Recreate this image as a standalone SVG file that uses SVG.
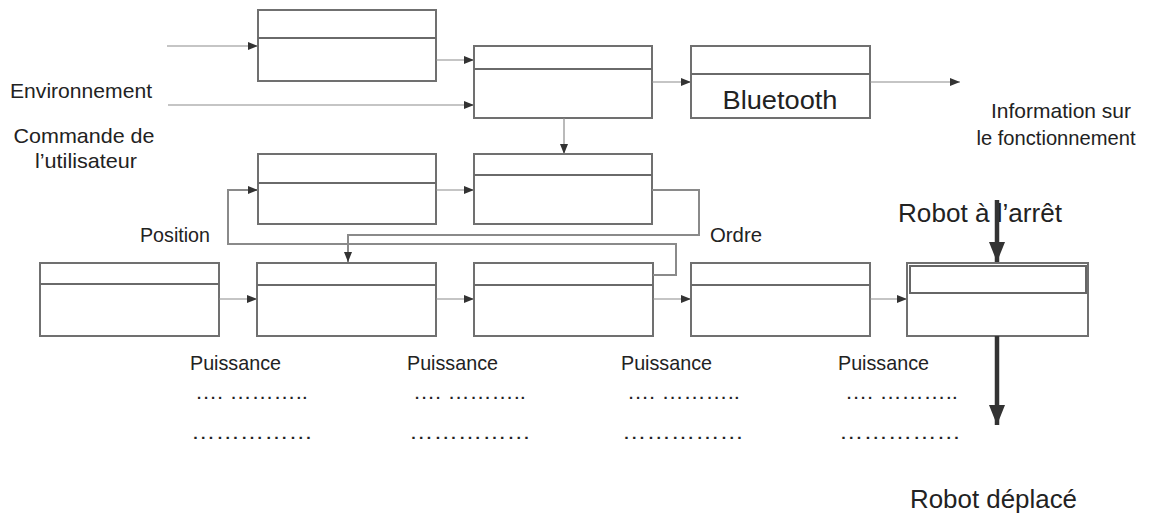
<svg xmlns="http://www.w3.org/2000/svg" width="1150" height="525" viewBox="0 0 1150 525">
  <defs>
    <style>
      .box { fill: #ffffff; stroke: #707070; stroke-width: 2; }
      .div { stroke: #6a6a6a; stroke-width: 2; }
      .link { fill: none; stroke: #8c8c8c; stroke-width: 1.2; }
      .loop { fill: none; stroke: #8a8a8a; stroke-width: 2; }
      .thick { fill: none; stroke: #333333; stroke-width: 4.5; }
      .lbl { font-family: "Liberation Sans", Arial, sans-serif; font-size: 21px; fill: #222222; }
      .big { font-family: "Liberation Sans", Arial, sans-serif; font-size: 26px; fill: #222222; }
      .dots { font-family: "Liberation Sans", Arial, sans-serif; font-size: 21px; fill: #222222; }
    </style>
    <marker id="ah" markerUnits="userSpaceOnUse" markerWidth="12" markerHeight="10" refX="10" refY="4" orient="auto">
      <path d="M0,0 L10,4 L0,8 Z" fill="#333333"/>
    </marker>
    <marker id="ahBig" markerUnits="userSpaceOnUse" markerWidth="22" markerHeight="18" refX="20" refY="8" orient="auto">
      <path d="M0,0 L20,8 L0,16 Z" fill="#333333"/>
    </marker>
  </defs>

  <rect width="1150" height="525" fill="#ffffff"/>

  <!-- blocks: top row -->
  <g id="blocA"><rect class="box" x="258" y="10" width="178" height="71"/><line class="div" x1="258" y1="38" x2="436" y2="38"/></g>
  <g id="blocB"><rect class="box" x="474" y="46" width="178" height="72"/><line class="div" x1="474" y1="69" x2="652" y2="69"/></g>
  <g id="blocBluetooth"><rect class="box" x="691" y="46" width="179" height="72"/><line class="div" x1="691" y1="74" x2="870" y2="74"/>
    <text class="big" x="780" y="109" font-size="28" text-anchor="middle" textLength="115" lengthAdjust="spacingAndGlyphs">Bluetooth</text></g>

  <!-- blocks: middle row -->
  <g id="blocD"><rect class="box" x="258" y="154" width="178" height="70"/><line class="div" x1="258" y1="183" x2="436" y2="183"/></g>
  <g id="blocE"><rect class="box" x="474" y="154" width="178" height="70"/><line class="div" x1="474" y1="175" x2="652" y2="175"/></g>

  <!-- blocks: bottom chain -->
  <g id="bloc1"><rect class="box" x="40" y="263" width="179" height="73"/><line class="div" x1="40" y1="284" x2="219" y2="284"/></g>
  <g id="bloc2"><rect class="box" x="257" y="263" width="179" height="73"/><line class="div" x1="257" y1="285" x2="436" y2="285"/></g>
  <g id="bloc3"><rect class="box" x="474" y="263" width="179" height="73"/><line class="div" x1="474" y1="285" x2="653" y2="285"/></g>
  <g id="bloc4"><rect class="box" x="691" y="263" width="179" height="73"/><line class="div" x1="691" y1="285" x2="870" y2="285"/></g>
  <g id="bloc5"><rect class="box" x="907" y="263" width="181" height="73"/>
    <rect x="910" y="266" width="176" height="27" fill="none" stroke="#666666" stroke-width="2"/></g>

  <!-- connectors -->
  <g id="connectors">
    <line class="link" x1="167" y1="46" x2="258" y2="46" marker-end="url(#ah)"/>
    <line class="link" x1="168" y1="105" x2="474" y2="105" marker-end="url(#ah)"/>
    <line class="link" x1="436" y1="60" x2="474" y2="60" marker-end="url(#ah)"/>
    <line class="link" x1="652" y1="82" x2="691" y2="82" marker-end="url(#ah)"/>
    <line class="link" x1="870" y1="82" x2="960" y2="82" marker-end="url(#ah)"/>
    <line class="link" x1="564" y1="118" x2="564" y2="154" marker-end="url(#ah)"/>
    <line class="link" x1="436" y1="190" x2="474" y2="190" marker-end="url(#ah)"/>
    <polyline class="loop" points="652,190 699,190 699,235 348,235 348,262" marker-end="url(#ah)"/>
    <polyline class="loop" points="653,275 676,275 676,244 228,244 228,190 258,190" marker-end="url(#ah)"/>
    <line class="link" x1="219" y1="299" x2="257" y2="299" marker-end="url(#ah)"/>
    <line class="link" x1="436" y1="299" x2="474" y2="299" marker-end="url(#ah)"/>
    <line class="link" x1="653" y1="299" x2="691" y2="299" marker-end="url(#ah)"/>
    <line class="link" x1="870" y1="299" x2="907" y2="299" marker-end="url(#ah)"/>
  </g>

  <!-- labels -->
  <g id="labels">
    <text class="lbl" x="10" y="98" textLength="142" lengthAdjust="spacingAndGlyphs">Environnement</text>
    <text class="lbl" x="84" y="143" text-anchor="middle" textLength="141" lengthAdjust="spacingAndGlyphs">Commande de</text>
    <text class="lbl" x="86" y="168" text-anchor="middle" textLength="102" lengthAdjust="spacingAndGlyphs">l’utilisateur</text>
    <text class="lbl" x="1061" y="118" text-anchor="middle" textLength="140" lengthAdjust="spacingAndGlyphs">Information sur</text>
    <text class="lbl" x="1056" y="145" text-anchor="middle" textLength="159" lengthAdjust="spacingAndGlyphs">le fonctionnement</text>
    <text class="lbl" x="140" y="242" textLength="70" lengthAdjust="spacingAndGlyphs">Position</text>
    <text class="lbl" x="710" y="242" textLength="52" lengthAdjust="spacingAndGlyphs">Ordre</text>

    <text class="lbl" x="190" y="370" textLength="91" lengthAdjust="spacingAndGlyphs">Puissance</text>
    <text class="lbl" x="407" y="370" textLength="91" lengthAdjust="spacingAndGlyphs">Puissance</text>
    <text class="lbl" x="621" y="370" textLength="91" lengthAdjust="spacingAndGlyphs">Puissance</text>
    <text class="lbl" x="838" y="370" textLength="91" lengthAdjust="spacingAndGlyphs">Puissance</text>

    <text class="dots" x="195" y="399" textLength="113" lengthAdjust="spacingAndGlyphs">…. ………..</text>
    <text class="dots" x="413" y="399" textLength="113" lengthAdjust="spacingAndGlyphs">…. ………..</text>
    <text class="dots" x="627" y="399" textLength="113" lengthAdjust="spacingAndGlyphs">…. ………..</text>
    <text class="dots" x="845" y="399" textLength="113" lengthAdjust="spacingAndGlyphs">…. ………..</text>
    <text class="dots" x="191" y="439" textLength="122" lengthAdjust="spacingAndGlyphs">……………</text>
    <text class="dots" x="409" y="439" textLength="122" lengthAdjust="spacingAndGlyphs">……………</text>
    <text class="dots" x="622" y="439" textLength="122" lengthAdjust="spacingAndGlyphs">……………</text>
    <text class="dots" x="839" y="439" textLength="122" lengthAdjust="spacingAndGlyphs">……………</text>

    <text class="big" x="898" y="222" textLength="164" lengthAdjust="spacingAndGlyphs">Robot à l’arrêt</text>
    <text class="big" x="910" y="508" textLength="167" lengthAdjust="spacingAndGlyphs">Robot déplacé</text>
  </g>

  <!-- state arrows -->
  <g id="stateArrows">
    <line class="thick" x1="997" y1="200" x2="997" y2="262" marker-end="url(#ahBig)"/>
    <line class="thick" x1="997" y1="336" x2="997" y2="425" marker-end="url(#ahBig)"/>
  </g>
</svg>
